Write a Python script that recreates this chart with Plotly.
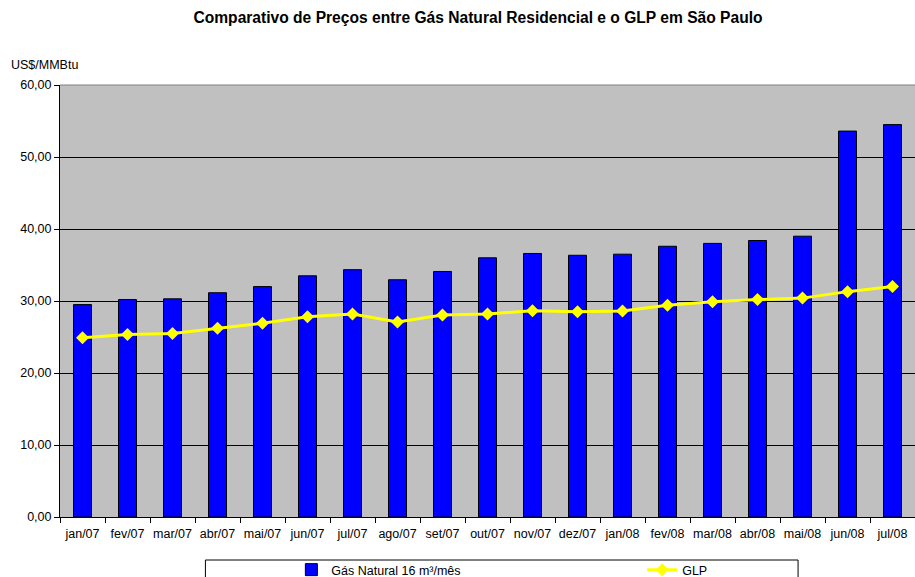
import plotly.graph_objects as go

categories = ["jan/07", "fev/07", "mar/07", "abr/07", "mai/07", "jun/07", "jul/07", "ago/07",
              "set/07", "out/07", "nov/07", "dez/07", "jan/08", "fev/08", "mar/08", "abr/08",
              "mai/08", "jun/08", "jul/08"]
gas_natural = [29.5, 30.2, 30.3, 31.15, 32.0, 33.5, 34.35, 32.95, 34.1, 36.0, 36.6, 36.35,
               36.5, 37.6, 38.0, 38.4, 39.0, 53.6, 54.5]
glp = [24.9, 25.35, 25.5, 26.2, 26.9, 27.8, 28.2, 27.1, 28.05, 28.2, 28.65, 28.5,
       28.6, 29.4, 29.9, 30.2, 30.4, 31.3, 32.0]
y_ticks = [0, 10, 20, 30, 40, 50, 60]
y_ticktext = ["0,00", "10,00", "20,00", "30,00", "40,00", "50,00", "60,00"]

W, H = 915, 577
ML, MR, MT, MB = 59.5, 0, 85, 60
PW = W - ML - MR
PH = H - MT - MB

def px_x(p):
    return (p - ML) / PW

def px_y(p):
    return (H - MB - p) / PH

fig = go.Figure()
fig.add_trace(go.Bar(
    x=categories, y=gas_natural, name="Gás Natural 16 m³/mês",
    marker=dict(color="#0000FF", line=dict(color="#000000", width=1)),
    width=0.4, legend="legend",
))
fig.add_trace(go.Scatter(
    x=categories, y=glp, name="GLP", mode="lines+markers",
    line=dict(color="#FFFF00", width=3),
    marker=dict(symbol="diamond", size=10, color="#FFFF00"),
    legend="legend2",
))

font_family = "Liberation Sans, Arial, sans-serif"
FS = 12.5
leg_common = dict(orientation="h", xanchor="left", yanchor="middle",
                  bgcolor="rgba(0,0,0,0)", borderwidth=0,
                  font=dict(size=FS, family=font_family, color="#000000"))

fig.update_layout(
    width=W, height=H,
    margin=dict(l=ML, r=MR, t=MT, b=MB, autoexpand=False),
    paper_bgcolor="#FFFFFF",
    plot_bgcolor="#C0C0C0",
    font=dict(family=font_family, size=FS, color="#000000"),
    title=dict(text="<b>Comparativo de Preços entre Gás Natural Residencial e o GLP em São Paulo</b>",
               x=478 / W, xref="container", xanchor="center",
               y=1 - 18 / H, yref="container", yanchor="middle",
               font=dict(size=15.6, family=font_family, color="#000000")),
    showlegend=True,
    legend=dict(x=px_x(291), y=px_y(570), **leg_common),
    legend2=dict(x=px_x(642), y=px_y(570), **leg_common),
)
fig.update_xaxes(
    range=[-0.5, len(categories) - 0.5],
    showline=True, linecolor="#000000", linewidth=1,
    ticks="outside", tickson="boundaries", ticklen=5, tickcolor="#000000",
    showgrid=False, tickfont=dict(size=FS), tickangle=0, automargin=False,
    ticklabelstandoff=5,
)
fig.update_yaxes(
    range=[0, 60], tickvals=y_ticks, ticktext=y_ticktext,
    showline=True, linecolor="#000000", linewidth=1,
    ticks="outside", ticklen=5, tickcolor="#000000",
    showgrid=True, gridcolor="#000000", gridwidth=1,
    zeroline=False, tickfont=dict(size=FS), automargin=False,
)
fig.add_annotation(text="US$/MMBtu", xref="paper", yref="paper",
                   x=px_x(8), y=px_y(65), xanchor="left", yanchor="middle",
                   showarrow=False, font=dict(size=FS, family=font_family))
# plot top border (gray)
fig.add_shape(type="line", xref="paper", yref="paper", x0=0, x1=1, y0=1, y1=1,
              line=dict(color="#808080", width=1))
# legend frame
fig.add_shape(type="rect", xref="paper", yref="paper",
              x0=px_x(205), x1=px_x(798), y0=px_y(560), y1=px_y(585),
              line=dict(color="#000000", width=1), fillcolor="rgba(0,0,0,0)")

fig.write_html("out.html", config={"displayModeBar": False},
               post_script="document.body.style.margin='0';document.body.style.overflow='hidden';")
